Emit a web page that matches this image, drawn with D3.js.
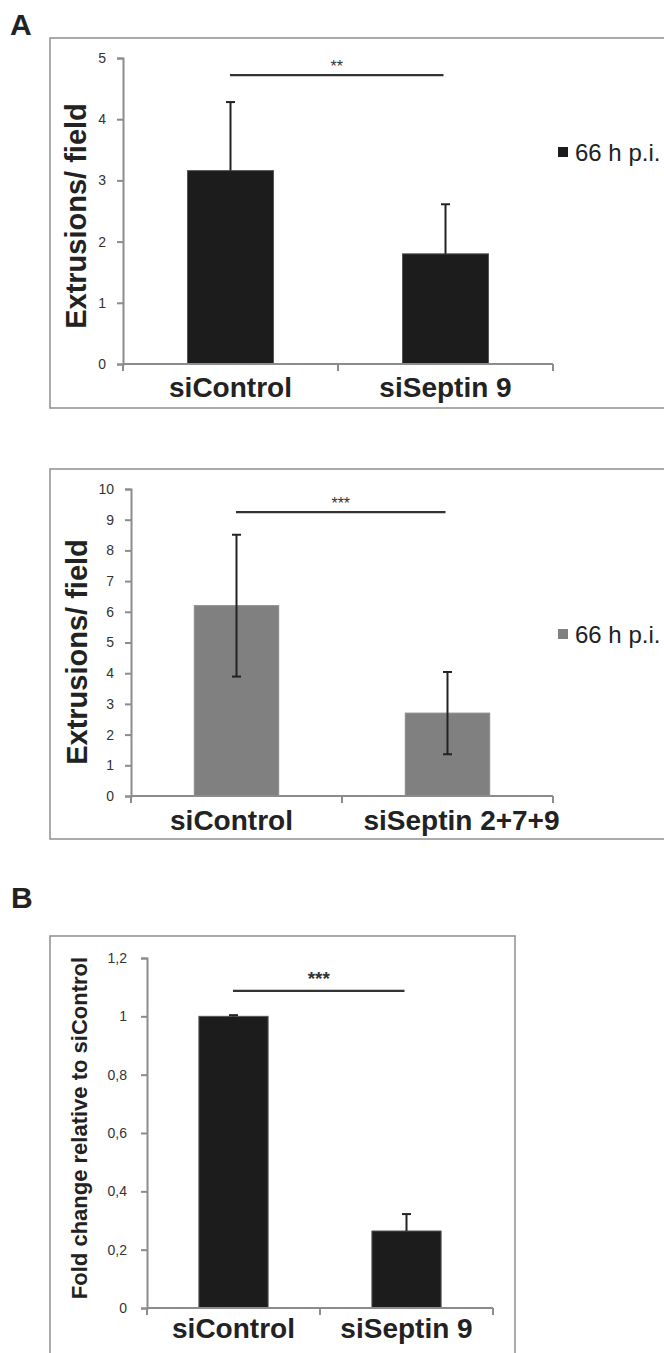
<!DOCTYPE html>
<html>
<head>
<meta charset="utf-8">
<script src="https://cdn.jsdelivr.net/npm/d3@7/dist/d3.min.js"></script>
<style>
  html, body { margin: 0; padding: 0; background: #fff; }
  svg { display: block; font-family: "Liberation Sans", Arial, Helvetica, sans-serif; }
</style>
</head>
<body>
<svg id="chart" width="664" height="1353"></svg>
<script>
// ---------- DATA ----------
// Panel A (top): siControl vs siSeptin 9
const categoriesA1 = ["siControl", "siSeptin 9"];
const valuesA1 = [3.16, 1.80];
const errUpA1 = [1.12, 0.81];
const errDownA1 = [0, 0];
const yTicksA1 = [0, 1, 2, 3, 4, 5];
const sigA1 = ["**"];
const sigLevelA1 = [4.72];
const seriesA1 = ["66 h p.i."];

// Panel A (bottom): siControl vs siSeptin 2+7+9
const categoriesA2 = ["siControl", "siSeptin 2+7+9"];
const valuesA2 = [6.2, 2.7];
const errUpA2 = [2.31, 1.34];
const errDownA2 = [2.31, 1.34];
const yTicksA2 = [0, 1, 2, 3, 4, 5, 6, 7, 8, 9, 10];
const sigA2 = ["***"];
const sigLevelA2 = [9.25];
const seriesA2 = ["66 h p.i."];

// Panel B
const categoriesB = ["siControl", "siSeptin 9"];
const valuesB = [1.0, 0.264];
const errUpB = [0.004, 0.058];
const errDownB = [0, 0];
const yTicksB = [0, 0.2, 0.4, 0.6, 0.8, 1.0, 1.2];
const yTickLabelsB = ["0", "0,2", "0,4", "0,6", "0,8", "1", "1,2"];
const sigB = ["***"];
const sigLevelB = [1.087];

// ---------- DRAWING ----------
const svg = d3.select("#chart");
const FRAME = "#969696", AXIS = "#8c8c8c", INK = "#222";

function panel(cfg) {
  const g = svg.append("g");
  // frame
  g.append("rect")
    .attr("x", cfg.frame[0]).attr("y", cfg.frame[1])
    .attr("width", cfg.frame[2]).attr("height", cfg.frame[3])
    .attr("fill", "none").attr("stroke", FRAME).attr("stroke-width", 1.6);

  const y = d3.scaleLinear().domain(cfg.yDomain).range([cfg.y0, cfg.y1]);
  const x = d3.scaleBand().domain(cfg.categories).range([cfg.x0, cfg.x1]).padding(0);

  // y axis
  const ya = d3.axisLeft(y).tickValues(cfg.yTicks).tickSizeOuter(0).tickSize(6).tickPadding(cfg.tickPad)
    .tickFormat((d, i) => cfg.yTickLabels ? cfg.yTickLabels[i] : d3.format("d")(d));
  const yg = g.append("g").attr("transform", `translate(${cfg.x0},0)`).call(ya);
  yg.select(".domain").attr("stroke", AXIS).attr("stroke-width", 2);
  yg.selectAll(".tick line").attr("stroke", AXIS).attr("stroke-width", 2);
  yg.selectAll(".tick text").attr("fill", "#333").attr("font-size", cfg.tickFont)
    .attr("font-family", "'Liberation Sans', Arial, sans-serif");

  // bars
  const bw = x.bandwidth() * 0.4;
  g.selectAll(".bar").data(cfg.values).enter().append("rect")
    .attr("x", (d, i) => x(cfg.categories[i]) + x.bandwidth() / 2 - bw / 2)
    .attr("y", d => y(d))
    .attr("width", bw)
    .attr("height", d => y(0) - y(d))
    .attr("fill", cfg.barColor)
    .attr("stroke", cfg.barStroke).attr("stroke-width", 1);

  // error bars
  cfg.values.forEach((v, i) => {
    const cx = x(cfg.categories[i]) + x.bandwidth() / 2;
    const top = v + cfg.errUp[i], bot = v - cfg.errDown[i];
    g.append("line").attr("x1", cx).attr("x2", cx).attr("y1", y(top)).attr("y2", y(bot))
      .attr("stroke", INK).attr("stroke-width", 2);
    g.append("line").attr("x1", cx - 4.5).attr("x2", cx + 4.5).attr("y1", y(top)).attr("y2", y(top))
      .attr("stroke", INK).attr("stroke-width", 2);
    if (cfg.errDown[i] > 0) {
      g.append("line").attr("x1", cx - 4.5).attr("x2", cx + 4.5).attr("y1", y(bot)).attr("y2", y(bot))
        .attr("stroke", INK).attr("stroke-width", 2);
    }
  });

  // x axis
  g.append("line").attr("x1", cfg.x0).attr("x2", cfg.x1).attr("y1", y(0)).attr("y2", y(0))
    .attr("stroke", AXIS).attr("stroke-width", 2);
  const edges = cfg.categories.map(c => x(c)).concat([cfg.x1]);
  g.selectAll(".xt").data(edges).enter().append("line")
    .attr("x1", d => d).attr("x2", d => d).attr("y1", y(0)).attr("y2", y(0) + 7)
    .attr("stroke", AXIS).attr("stroke-width", 2);
  g.selectAll(".xl").data(cfg.categories).enter().append("text")
    .attr("x", (d, i) => x(d) + x.bandwidth() / 2 + (cfg.labelShift ? cfg.labelShift[i] : 0))
    .attr("y", y(0) + cfg.xLabelDy)
    .attr("text-anchor", "middle").attr("font-weight", "bold")
    .attr("font-size", cfg.xFont).attr("fill", INK).text(d => d);

  // y title
  g.append("text")
    .attr("transform", `translate(${cfg.yTitleX},${cfg.yTitleY}) rotate(-90)`)
    .attr("text-anchor", "middle").attr("font-weight", "bold")
    .attr("font-size", cfg.yTitleFont).attr("fill", INK).text(cfg.yTitle);

  // significance
  const sx1 = x(cfg.categories[0]) + x.bandwidth() / 2 - 0.5;
  const sx2 = x(cfg.categories[1]) + x.bandwidth() / 2 - 2;
  g.append("line").attr("x1", sx1).attr("x2", sx2).attr("y1", y(cfg.sigLevel[0])).attr("y2", y(cfg.sigLevel[0]))
    .attr("stroke", "#333").attr("stroke-width", 2.2);
  g.append("text").attr("x", (sx1 + sx2) / 2).attr("y", y(cfg.sigLevel[0]) - cfg.sigDy)
    .attr("text-anchor", "middle").attr("font-size", cfg.sigFont).attr("font-weight", cfg.sigWeight)
    .attr("fill", "#333").text(cfg.sig[0]);

  // legend
  if (cfg.series) {
    g.append("rect").attr("x", 558).attr("y", cfg.legendY - 14).attr("width", 10).attr("height", 10)
      .attr("fill", cfg.barColor);
    g.append("text").attr("x", 575).attr("y", cfg.legendY).attr("font-size", 24)
      .attr("fill", INK).text(cfg.series[0]);
  }
}

// Panel letters
svg.append("text").attr("x", 10).attr("y", 35).attr("font-size", 30).attr("font-weight", "bold")
  .attr("fill", INK).text("A");
svg.append("text").attr("x", 11).attr("y", 908).attr("font-size", 30).attr("font-weight", "bold")
  .attr("fill", INK).text("B");

panel({
  frame: [50, 38, 640, 370],
  yDomain: [0, 5], y0: 364, y1: 58, x0: 123, x1: 553,
  categories: categoriesA1, values: valuesA1, errUp: errUpA1, errDown: errDownA1,
  yTicks: yTicksA1, tickPad: 11, tickFont: 14,
  barColor: "#1c1c1c", barStroke: "#555",
  xLabelDy: 33, xFont: 28,
  yTitle: "Extrusions/ field", yTitleX: 86, yTitleY: 216, yTitleFont: 29,
  sig: sigA1, sigLevel: sigLevelA1, sigDy: 3, sigFont: 16, sigWeight: "normal",
  series: seriesA1, legendY: 161
});

panel({
  frame: [50, 469, 640, 370],
  yDomain: [0, 10], y0: 796, y1: 489, x0: 131, x1: 553,
  categories: categoriesA2, values: valuesA2, errUp: errUpA2, errDown: errDownA2,
  yTicks: yTicksA2, tickPad: 11, tickFont: 14,
  barColor: "#808080", barStroke: "#8a8a8a",
  xLabelDy: 34, xFont: 28, labelShift: [-5, 14],
  yTitle: "Extrusions/ field", yTitleX: 87, yTitleY: 652, yTitleFont: 29,
  sig: sigA2, sigLevel: sigLevelA2, sigDy: 3, sigFont: 16, sigWeight: "normal",
  series: seriesA2, legendY: 643
});

panel({
  frame: [50, 936, 465, 420],
  yDomain: [0, 1.2], y0: 1308, y1: 958, x0: 147, x1: 493,
  categories: categoriesB, values: valuesB, errUp: errUpB, errDown: errDownB,
  yTicks: yTicksB, yTickLabels: yTickLabelsB, tickPad: 14, tickFont: 14,
  barColor: "#1c1c1c", barStroke: "#555",
  xLabelDy: 30, xFont: 28,
  yTitle: "Fold change relative to siControl", yTitleX: 87, yTitleY: 1128, yTitleFont: 22,
  sig: sigB, sigLevel: sigLevelB, sigDy: 6, sigFont: 19, sigWeight: "bold",
  series: null
});
</script>
</body>
</html>
